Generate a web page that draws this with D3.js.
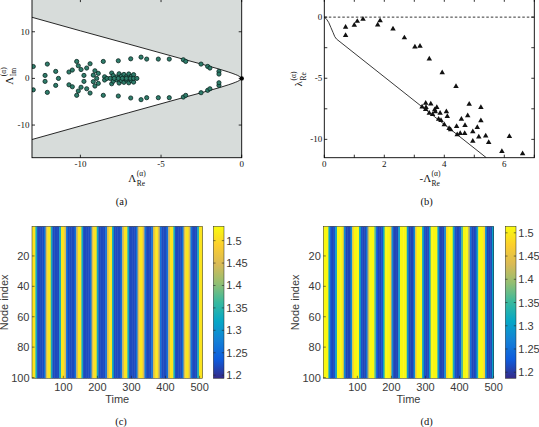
<!DOCTYPE html>
<html>
<head>
<meta charset="utf-8">
<script src="https://cdn.jsdelivr.net/npm/d3@7"></script>
<style>
  body { margin: 0; background: #fff; }
  svg { display: block; }
</style>
</head>
<body>
<svg id="fig" width="539" height="427"></svg>
<script>
var SERIF = "'Liberation Serif', 'DejaVu Serif', serif";
var SANS = "'Liberation Sans', Arial, sans-serif";

// ---------- (a) eigenvalues of the coupling matrix ----------
var aBoundary = [[-13, 13.1], [-10, 10.2], [-7, 7.35], [-3.5, 4.0], [-1.4, 2.0], [-0.8, 1.35], [-0.4, 0.85], [-0.15, 0.45], [0, 0]];
var aReal = [-11.36, -8.99, -8.35, -8.15, -7.9, -7.65, -7.4, -7.15, -6.9, -6.7, -6.5];
var aComplex = [
  [-12.92, 2.55], [-12.92, -2.45], [-12.05, 3.07], [-12.05, -3.0], [-12.19, 0.64], [-12.19, -0.64],
  [-11.53, 1.5], [-11.53, -1.5], [-10.71, 1.37], [-10.71, -1.37], [-10.5, 1.79], [-10.5, -1.79],
  [-10.23, 3.63], [-10.23, -3.63], [-10.13, 2.71], [-10.13, -2.71], [-9.96, 1.9], [-9.96, -1.9],
  [-9.78, 0.64], [-9.78, -0.64], [-9.61, 2.22], [-9.61, -2.22], [-9.4, 3.14], [-9.4, -3.14],
  [-9.2, 0.7], [-9.2, -0.7], [-9.1, 1.64], [-9.1, -1.64], [-8.89, 1.07], [-8.89, -1.07],
  [-8.58, 3.63], [-8.58, -3.63], [-8.5, 0.35], [-8.5, -0.35], [-8.06, 1.15], [-8.06, -1.15],
  [-7.96, 0.6], [-7.96, -0.6], [-7.75, 0.3], [-7.75, -0.3], [-7.6, 1.0], [-7.6, -1.0],
  [-7.45, 0.5], [-7.45, -0.5], [-7.3, 0.85], [-7.3, -0.85], [-7.15, 0.35], [-7.15, -0.35],
  [-7.0, 0.95], [-7.0, -0.95], [-6.85, 0.45], [-6.85, -0.45], [-6.7, 0.8], [-6.7, -0.8],
  [-7.65, 3.78], [-7.65, -3.78], [-6.88, 4.2], [-6.88, -4.2], [-6.24, 4.56], [-6.24, -4.56],
  [-5.89, 4.14], [-5.89, -4.14], [-5.17, 4.14], [-5.17, -4.14], [-4.49, 4.14], [-4.49, -4.14],
  [-3.62, 4.0], [-3.62, -4.0], [-3.47, 3.64], [-3.47, -3.64], [-2.52, 3.07], [-2.52, -3.07],
  [-2.11, 2.56], [-2.11, -2.56], [-1.97, 2.22], [-1.97, -2.22], [-1.41, 1.5], [-1.41, -1.5],
  [-1.41, 0.93], [-1.41, -0.93]
];
var aZero = [[0, 0]];
var aXTicks = [-10, -5, 0];
var aYTicks = [10, 0, -10];

// ---------- (b) Lyapunov exponents ----------
var bBound = [[0, 0], [0.04, -0.08], [0.09, -0.22], [0.15, -0.45], [0.22, -0.85], [0.29, -1.25], [0.35, -1.6], [0.41, -1.8], [5.4, -11.5]];
var bPoints = [
  [0.71, -0.82], [0.71, -1.5], [1.0, -0.65], [1.1, -0.34], [1.29, -0.16], [1.78, -0.63], [1.86, -0.28],
  [2.29, -0.96], [2.67, -1.69], [3.02, -2.43], [3.19, -2.37], [3.5, -3.41], [3.93, -4.55], [4.39, -5.67],
  [4.83, -7.12], [5.22, -7.39], [5.22, -8.48], [4.78, -8.07], [4.57, -8.34], [4.69, -8.86], [4.41, -8.94],
  [4.53, -9.51], [4.68, -9.51], [4.43, -9.62], [4.95, -9.38], [5.1, -9.02], [4.95, -10.14], [5.15, -9.79],
  [5.38, -9.71], [5.48, -10.25], [5.92, -10.98], [6.17, -9.76], [6.61, -11.17],
  [3.38, -7.04], [3.55, -7.09], [3.26, -7.34], [3.39, -7.39], [3.38, -7.55], [3.75, -7.39], [3.68, -7.58],
  [3.7, -7.74], [3.5, -7.85], [3.61, -7.96], [3.86, -7.85], [4.07, -7.74], [4.1, -8.13], [3.81, -8.34],
  [3.89, -8.45], [4.0, -8.8], [4.16, -9.1], [4.21, -9.2]
];
var bXTicks = [0, 1, 2, 3, 4, 5, 6, 7];
var bXLabels = [0, 2, 4, 6];
var bYTicks = [0, -2.5, -5, -7.5, -10];
var bYLabels = [0, -5, -10];

// ---------- (c), (d) node states over time (all nodes identical) ----------
var cTimes = d3.range(8, 508, 5);      // left edge of each time bin, width 5
var cValues = [
  1.51, 1.51, 1.33, 1.22, 1.22, 1.22, 1.22, 1.26, 1.45, 1.51,
  1.51, 1.33, 1.22, 1.22, 1.22, 1.22, 1.33, 1.51, 1.51, 1.45,
  1.26, 1.22, 1.22, 1.22, 1.22, 1.26, 1.45, 1.51, 1.51, 1.33,
  1.22, 1.22, 1.22, 1.22, 1.26, 1.45, 1.51, 1.51, 1.33, 1.22,
  1.22, 1.22, 1.22, 1.26, 1.45, 1.51, 1.51, 1.33, 1.22, 1.22,
  1.22, 1.22, 1.26, 1.45, 1.51, 1.51, 1.33, 1.22, 1.22, 1.22,
  1.22, 1.26, 1.45, 1.51, 1.51, 1.45, 1.26, 1.22, 1.22, 1.22,
  1.26, 1.45, 1.51, 1.51, 1.45, 1.26, 1.22, 1.22, 1.22, 1.26,
  1.45, 1.51, 1.51, 1.33, 1.22, 1.22, 1.22, 1.22, 1.26, 1.45,
  1.51, 1.51, 1.45, 1.26, 1.22, 1.22, 1.22, 1.33, 1.51, 1.51
];
var dTimes = d3.range(0, 500, 5);
var dValues = [
  1.51, 1.51, 1.51, 1.3, 1.22, 1.21, 1.22, 1.3, 1.51, 1.51,
  1.51, 1.49, 1.28, 1.21, 1.21, 1.21, 1.28, 1.48, 1.51, 1.51,
  1.51, 1.32, 1.22, 1.21, 1.21, 1.25, 1.42, 1.51, 1.51, 1.51,
  1.36, 1.23, 1.21, 1.21, 1.22, 1.32, 1.51, 1.51, 1.51, 1.48,
  1.28, 1.21, 1.21, 1.21, 1.3, 1.51, 1.51, 1.51, 1.51, 1.3,
  1.21, 1.21, 1.21, 1.28, 1.48, 1.51, 1.51, 1.51, 1.32, 1.22,
  1.21, 1.21, 1.3, 1.51, 1.51, 1.51, 1.51, 1.3, 1.21, 1.21,
  1.21, 1.28, 1.48, 1.51, 1.51, 1.51, 1.32, 1.22, 1.21, 1.21,
  1.23, 1.36, 1.51, 1.51, 1.51, 1.42, 1.25, 1.21, 1.21, 1.22,
  1.32, 1.51, 1.51, 1.51, 1.48, 1.28, 1.21, 1.21, 1.21, 1.3
];
var nodeCount = 100;
var timeTicks = [100, 200, 300, 400, 500];
var nodeTicks = [20, 40, 60, 80, 100];
var cbarTicks = [1.2, 1.25, 1.3, 1.35, 1.4, 1.45, 1.5];
var cRange = [1.193, 1.532];
var dRange = [1.187, 1.514];

var parula = ["#352a87", "#0f5cdd", "#1481d6", "#06a7c6", "#38b99e", "#92bf73", "#d9ba56", "#fcce2e", "#f9fb0e"];

var svg = d3.select("#fig");

function mathLabel(x, y, main, sub, sup, rotated) {
  var g = svg.append("g")
    .attr("transform", "translate(" + x + "," + y + ")" + (rotated ? " rotate(-90)" : ""))
    .attr("font-family", SERIF).attr("fill", "#111");
  var t = g.append("text").attr("font-size", 11).text(main);
  var mw = t.node().getComputedTextLength();
  var s1 = g.append("text").attr("font-size", 7.5).attr("x", mw + 0.5).attr("y", 3.5).text(sub);
  var s2 = g.append("text").attr("font-size", 7.5).attr("x", mw + 0.5).attr("y", -6.5).text(sup);
  var w = mw + 0.5 + Math.max(s1.node().getComputedTextLength(), s2.node().getComputedTextLength());
  g.selectAll("text").attr("dx", -w / 2);
}

function frameTicks(g, x, y, xt, yt, len) {
  var x0 = x.range()[0], x1 = x.range()[1], y0 = y.range()[0], y1 = y.range()[1];
  xt.forEach(function(v) {
    g.append("line").attr("x1", x(v)).attr("x2", x(v)).attr("y1", y0).attr("y2", y0 - len);
    g.append("line").attr("x1", x(v)).attr("x2", x(v)).attr("y1", y1).attr("y2", y1 + len);
  });
  yt.forEach(function(v) {
    g.append("line").attr("x1", x0).attr("x2", x0 + len).attr("y1", y(v)).attr("y2", y(v));
    g.append("line").attr("x1", x1).attr("x2", x1 - len).attr("y1", y(v)).attr("y2", y(v));
  });
  g.selectAll("line").attr("stroke", "#000").attr("stroke-width", 0.8);
  g.append("rect").attr("x", x0).attr("y", y1).attr("width", x1 - x0).attr("height", y0 - y1)
    .attr("fill", "none").attr("stroke", "#000").attr("stroke-width", 0.9);
}

// ================= panel (a) =================
var xA = d3.scaleLinear().domain([-13, 0]).range([32, 241.7]);
var yA = d3.scaleLinear().domain([-17, 17]).range([157.7, -0.9]);
var gA = svg.append("g");
gA.append("clipPath").attr("id", "clipA").append("rect")
  .attr("x", xA(-13)).attr("y", yA(17)).attr("width", xA(0) - xA(-13)).attr("height", yA(-17) - yA(17));
var pa = gA.append("g").attr("clip-path", "url(#clipA)");
pa.append("path").datum(aBoundary)
  .attr("fill", "#d7dcda")
  .attr("d", d3.area().x(function(d) { return xA(d[0]); }).y0(yA(17)).y1(function(d) { return yA(d[1]); }).curve(d3.curveMonotoneX));
pa.append("path").datum(aBoundary)
  .attr("fill", "#d7dcda")
  .attr("d", d3.area().x(function(d) { return xA(d[0]); }).y0(yA(-17)).y1(function(d) { return yA(-d[1]); }).curve(d3.curveMonotoneX));
var bLineUp = d3.line().x(function(d) { return xA(d[0]); }).y(function(d) { return yA(d[1]); }).curve(d3.curveMonotoneX);
var bLineDn = d3.line().x(function(d) { return xA(d[0]); }).y(function(d) { return yA(-d[1]); }).curve(d3.curveMonotoneX);
pa.append("path").datum(aBoundary).attr("fill", "none").attr("stroke", "#111").attr("stroke-width", 0.9).attr("d", bLineUp);
pa.append("path").datum(aBoundary).attr("fill", "none").attr("stroke", "#111").attr("stroke-width", 0.9).attr("d", bLineDn);

var aAll = aComplex.concat(aReal.map(function(r) { return [r, 0]; }));
pa.selectAll("circle.eig").data(aAll).enter().append("circle").attr("class", "eig")
  .attr("cx", function(d) { return xA(d[0]); })
  .attr("cy", function(d) { return yA(d[1]); })
  .attr("r", 2.1)
  .attr("fill", "#2f7d6b").attr("stroke", "#0a2520").attr("stroke-width", 0.8);
gA.selectAll("circle.zero").data(aZero).enter().append("circle").attr("class", "zero")
  .attr("cx", function(d) { return xA(d[0]); })
  .attr("cy", function(d) { return yA(d[1]); })
  .attr("r", 2.2).attr("fill", "#000");

frameTicks(gA.append("g"), xA, yA, aXTicks, aYTicks, 3);
gA.selectAll("text.xt").data(aXTicks).enter().append("text").attr("class", "xt")
  .attr("font-family", SERIF).attr("fill", "#111")
  .attr("x", function(d) { return xA(d); }).attr("y", 167).attr("text-anchor", "middle")
  .attr("font-size", 9).text(function(d) { return d; });
gA.selectAll("text.yt").data(aYTicks).enter().append("text").attr("class", "yt")
  .attr("font-family", SERIF).attr("fill", "#111")
  .attr("x", xA(-13) - 2.5).attr("y", function(d) { return yA(d) + 3; }).attr("text-anchor", "end")
  .attr("font-size", 9).text(function(d) { return d; });
mathLabel(137, 182, "\u039B", "Re", "(\u03B1)", false);
mathLabel(12.5, 76, "\u039B", "Im", "(\u03B1)", true);
svg.append("text").attr("font-family", SERIF).attr("fill", "#111")
  .attr("x", 121.5).attr("y", 205).attr("text-anchor", "middle")
  .attr("font-size", 10.5).text("(a)");

// ================= panel (b) =================
var xB = d3.scaleLinear().domain([0, 7]).range([324.3, 534.3]);
var yB = d3.scaleLinear().domain([-11.5, 1.5]).range([157.7, -1.2]);
var gB = svg.append("g");
gB.append("clipPath").attr("id", "clipB").append("rect")
  .attr("x", xB(0)).attr("y", yB(1.5)).attr("width", xB(7) - xB(0)).attr("height", yB(-11.5) - yB(1.5));
var pb = gB.append("g").attr("clip-path", "url(#clipB)");
pb.append("line").attr("x1", xB(0)).attr("x2", xB(7)).attr("y1", yB(0)).attr("y2", yB(0))
  .attr("stroke", "#000").attr("stroke-width", 0.8).attr("stroke-dasharray", "2.5,2");
pb.append("path").datum(bBound).attr("fill", "none").attr("stroke", "#222").attr("stroke-width", 0.9)
  .attr("d", d3.line().x(function(d) { return xB(d[0]); }).y(function(d) { return yB(d[1]); }));
pb.selectAll("path.tri").data(bPoints).enter().append("path").attr("class", "tri")
  .attr("transform", function(d) { return "translate(" + xB(d[0]) + "," + yB(d[1]) + ")"; })
  .attr("d", d3.symbol(d3.symbolTriangle, 13))
  .attr("fill", "#111");
frameTicks(gB.append("g"), xB, yB, bXTicks, bYTicks, 3);
gB.selectAll("text.xt").data(bXLabels).enter().append("text").attr("class", "xt")
  .attr("font-family", SERIF).attr("fill", "#111")
  .attr("x", function(d) { return xB(d); }).attr("y", 167).attr("text-anchor", "middle")
  .attr("font-size", 9).text(function(d) { return d; });
gB.selectAll("text.yt").data(bYLabels).enter().append("text").attr("class", "yt")
  .attr("font-family", SERIF).attr("fill", "#111")
  .attr("x", xB(0) - 2).attr("y", function(d) { return yB(d) + 3; }).attr("text-anchor", "end")
  .attr("font-size", 9).text(function(d) { return d; });
mathLabel(430, 182, "-\u039B", "Re", "(\u03B1)", false);
mathLabel(302, 79, "\u03BB", "Re", "(\u03B1)", true);
svg.append("text").attr("font-family", SERIF).attr("fill", "#111")
  .attr("x", 426.7).attr("y", 205).attr("text-anchor", "middle")
  .attr("font-size", 10.5).text("(b)");

// ================= panels (c), (d) =================
function heatPanel(opts) {
  var x = d3.scaleLinear().domain(opts.tDomain).range([opts.left, opts.left + 170.3]);
  var y = d3.scaleLinear().domain([0.5, nodeCount + 0.5]).range([226.3, 378.3]);
  var stops = parula.map(function(c, i) { return opts.cRange[0] + (opts.cRange[1] - opts.cRange[0]) * i / (parula.length - 1); });
  var color = d3.scaleLinear().domain(stops).range(parula).clamp(true);
  var g = svg.append("g");
  g.selectAll("rect.cell").data(opts.values).enter().append("rect").attr("class", "cell")
    .attr("x", function(d, i) { return x(opts.times[i]); })
    .attr("width", function(d, i) { return x(opts.times[i] + 5) - x(opts.times[i]) + 0.4; })
    .attr("y", y(0.5)).attr("height", y(nodeCount + 0.5) - y(0.5))
    .attr("fill", function(d) { return color(d); });
  // axes
  var tk = g.append("g").attr("stroke", "#262626").attr("stroke-width", 0.6);
  timeTicks.forEach(function(t) {
    tk.append("line").attr("x1", x(t)).attr("x2", x(t)).attr("y1", y(nodeCount + 0.5)).attr("y2", y(nodeCount + 0.5) - 2.5);
  });
  nodeTicks.forEach(function(n) {
    tk.append("line").attr("x1", x.range()[0]).attr("x2", x.range()[0] + 2.5).attr("y1", y(n)).attr("y2", y(n));
  });
  g.append("rect").attr("x", x.range()[0]).attr("y", y(0.5)).attr("width", x.range()[1] - x.range()[0])
    .attr("height", y(nodeCount + 0.5) - y(0.5)).attr("fill", "none").attr("stroke", "#262626").attr("stroke-width", 0.5);
  var txt = g.append("g").attr("font-family", SANS).attr("fill", "#3a3a3a").attr("font-size", 11);
  txt.selectAll("text.xt").data(timeTicks).enter().append("text").attr("class", "xt")
    .attr("x", function(d) { return x(d); }).attr("y", 391).attr("text-anchor", "middle")
    .text(function(d) { return d; });
  txt.selectAll("text.yt").data(nodeTicks).enter().append("text").attr("class", "yt")
    .attr("x", x.range()[0] - 2.5).attr("y", function(d) { return y(d) + 4; }).attr("text-anchor", "end")
    .text(function(d) { return d; });
  txt.append("text").attr("x", (x.range()[0] + x.range()[1]) / 2).attr("y", 403)
    .attr("text-anchor", "middle").text("Time");
  txt.append("text")
    .attr("transform", "translate(" + (x.range()[0] - 24.5) + "," + (y(0.5) + y(nodeCount + 0.5)) / 2 + ") rotate(-90)")
    .attr("text-anchor", "middle").text("Node index");
  // colorbar
  var cb = d3.scaleLinear().domain(opts.cRange).range([378.3, 226.3]);
  var gid = "grad" + opts.tag;
  var grad = svg.append("defs").append("linearGradient").attr("id", gid)
    .attr("x1", 0).attr("x2", 0).attr("y1", 1).attr("y2", 0);
  parula.forEach(function(c, i) {
    grad.append("stop").attr("offset", i / (parula.length - 1)).attr("stop-color", c);
  });
  g.append("rect").attr("x", opts.cbLeft).attr("y", 226.3).attr("width", 10.7).attr("height", 152)
    .attr("fill", "url(#" + gid + ")").attr("stroke", "#262626").attr("stroke-width", 0.5);
  var ct = g.append("g").attr("stroke", "#262626").attr("stroke-width", 0.6);
  cbarTicks.forEach(function(v) {
    ct.append("line").attr("x1", opts.cbLeft + 10.7).attr("x2", opts.cbLeft + 8.5).attr("y1", cb(v)).attr("y2", cb(v));
    ct.append("line").attr("x1", opts.cbLeft).attr("x2", opts.cbLeft + 2.2).attr("y1", cb(v)).attr("y2", cb(v));
  });
  txt.selectAll("text.ct").data(cbarTicks).enter().append("text").attr("class", "ct")
    .attr("x", opts.cbLeft + 13).attr("y", function(d) { return cb(d) + 4; })
    .text(function(d) { return d; });
  svg.append("text").attr("font-family", SERIF).attr("fill", "#111")
    .attr("x", opts.capX).attr("y", 425).attr("text-anchor", "middle")
    .attr("font-size", 10.5).text(opts.caption);
}

heatPanel({ tag: "c", left: 32, tDomain: [8, 508], times: cTimes, values: cValues, cRange: cRange, cbLeft: 213.3, capX: 121, caption: "(c)" });
heatPanel({ tag: "d", left: 323.3, tDomain: [0, 500], times: dTimes, values: dValues, cRange: dRange, cbLeft: 505.3, capX: 426.7, caption: "(d)" });
</script>
</body>
</html>
